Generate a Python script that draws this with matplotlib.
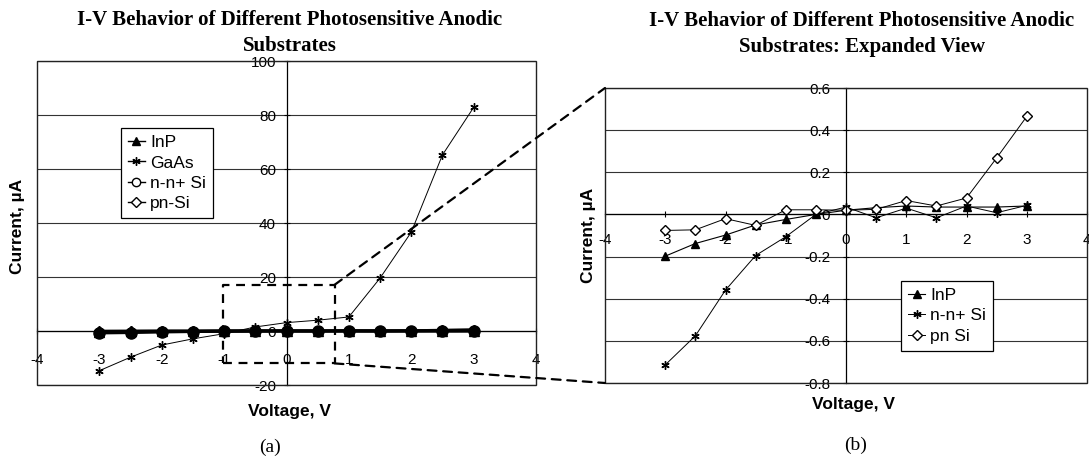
import matplotlib
matplotlib.use('Agg')
import matplotlib.pyplot as plt
import numpy as np
from matplotlib.patches import Rectangle, ConnectionPatch

plt.rcParams['font.family'] = ['Liberation Sans', 'DejaVu Sans']
plt.rcParams['axes.unicode_minus'] = False

# datos
v = [-3, -2.5, -2, -1.5, -1, -0.5, 0, 0.5, 1, 1.5, 2, 2.5, 3]
gaas = [-14.7, -9.7, -5.2, -2.9, -1.0, 1.5, 3.1, 4.0, 5.2, 19.6, 36.6, 65.2, 82.8]
inp = [-0.198, -0.138, -0.098, -0.05, -0.024, 0.0, 0.02, 0.032, 0.04, 0.035, 0.035, 0.035, 0.04]
nn_si = [-0.714, -0.576, -0.359, -0.195, -0.106, 0.0, 0.035, -0.016, 0.03, -0.016, 0.04, 0.008, 0.043]
pn_si = [-0.076, -0.073, -0.02, -0.052, 0.022, 0.022, 0.02, 0.024, 0.066, 0.04, 0.078, 0.268, 0.465]

xticks = [-4, -3, -2, -1, 0, 1, 2, 3, 4]
yticks_a = [-20, 0, 20, 40, 60, 80, 100]
yticks_b = [-0.8, -0.6, -0.4, -0.2, 0, 0.2, 0.4, 0.6]
zoom_box = [-1.02, 0.77, -12.0, 17.1]   # x0, x1, y0, y1

W, H = 1089, 461
fig = plt.figure(figsize=(W / 100, H / 100), dpi=100)


def ejes(rect_px, ylim, yticks, yfmt, xpad, ypad):
    x0, y0, x1, y1 = rect_px
    ax = fig.add_axes([x0 / W, 1 - y1 / H, (x1 - x0) / W, (y1 - y0) / H])
    ax.set_xlim(-4, 4)
    ax.set_ylim(*ylim)
    ax.spines['left'].set_position(('data', 0))
    ax.spines['bottom'].set_position(('data', 0))
    ax.spines['top'].set_visible(False)
    ax.spines['right'].set_visible(False)
    for s in ['left', 'bottom']:
        ax.spines[s].set_linewidth(0.9)
    ax.add_patch(Rectangle((0, 0), 1, 1, transform=ax.transAxes, fill=False,
                           lw=1.0, ec='#222222', clip_on=False, zorder=5))
    ax.set_xticks(xticks)
    ax.set_yticks(yticks)
    ax.set_yticklabels([yfmt(t) for t in yticks])
    ax.tick_params(direction='inout', length=5, width=0.8, labelsize=11)
    ax.tick_params(axis='x', pad=xpad)
    ax.tick_params(axis='y', pad=ypad)
    ax.grid(axis='y', color='#333333', lw=0.8)
    ax.set_axisbelow(True)
    return ax


# ---- (a)
ax1 = ejes((37, 61, 536, 385), (-20, 100), yticks_a, lambda t: '%d' % t, 13, 5)
ax1.plot(v, inp, 'k-', marker='^', ms=7, lw=2.2, label='InP')
ax1.plot(v, gaas, 'k-', marker=(6, 2, 0), ms=6, lw=0.7, label='GaAs')
ax1.plot(v, nn_si, 'k-', marker='o', ms=8, mfc='k', lw=2.2, label='n-n+ Si')
ax1.plot(v, pn_si, 'k-', marker='D', ms=5, mfc='k', lw=2.2, label='pn-Si')
leg = ax1.legend(loc='upper left', bbox_to_anchor=(0.168, 0.793), fontsize=12.5,
                 frameon=True, fancybox=False, framealpha=1, edgecolor='k',
                 handlelength=1.0, handletextpad=0.3, borderpad=0.4, labelspacing=0.3,
                 borderaxespad=0)
leg.get_frame().set_linewidth(0.9)
h = leg.legend_handles
h[0].set_linewidth(1); h[0].set_markersize(6)
h[1].set_linewidth(1)
h[2].set_linewidth(1); h[2].set_markerfacecolor('w'); h[2].set_markersize(6)
h[3].set_linewidth(1); h[3].set_markerfacecolor('w'); h[3].set_markersize(5)

x0, x1, y0, y1 = zoom_box
ax1.plot([x0, x1, x1, x0, x0], [y0, y0, y1, y1, y0], 'k--', lw=1.6, dashes=(4, 3), zorder=6)

# ---- (b)
ax2 = ejes((605, 88, 1087, 383), (-0.8, 0.6), yticks_b,
           lambda t: '0' if t == 0 else ('%.1f' % t), 11, 9)
ax2.plot(v, inp, 'k-', marker='^', ms=6, lw=0.8, label='InP')
ax2.plot(v, nn_si, 'k-', marker=(6, 2, 0), ms=6, lw=0.7, label='n-n+ Si')
ax2.plot(v, pn_si, 'k-', marker='D', ms=5, mfc='w', lw=0.7, label='pn Si')
leg2 = ax2.legend(loc='upper left', bbox_to_anchor=(0.614, 0.346), fontsize=12.5,
                  frameon=True, fancybox=False, framealpha=1, edgecolor='k',
                  handlelength=1.0, handletextpad=0.3, borderpad=0.4, labelspacing=0.3,
                  borderaxespad=0)
leg2.get_frame().set_linewidth(0.9)

# lineas de ampliacion
for pa, pb in [((x1, y1), (0, 1)), ((x1, y0), (0, 0))]:
    con = ConnectionPatch(xyA=pa, coordsA=ax1.transData, xyB=pb, coordsB=ax2.transAxes,
                          ls=(0, (4, 3)), lw=1.6, color='k')
    fig.add_artist(con)

# textos
tfont = dict(family='Liberation Serif', weight='bold', fontsize=15, ha='center', va='center')
fig.text(290 / W, 1 - 20 / H, 'I-V Behavior of Different Photosensitive Anodic', **tfont)
fig.text(290 / W, 1 - 46 / H, 'Substrates', **tfont)
fig.text(862 / W, 1 - 21 / H, 'I-V Behavior of Different Photosensitive Anodic', **tfont)
fig.text(862 / W, 1 - 47 / H, 'Substrates: Expanded View', **tfont)

lfont = dict(weight='bold', fontsize=12.5, ha='center', va='center')
fig.text(290 / W, 1 - 411 / H, 'Voltage, V', **lfont)
fig.text(853 / W, 1 - 404 / H, 'Voltage, V', **lfont)
fig.text(18 / W, 1 - 226 / H, 'Current, \u00b5A', rotation=90, **lfont)
fig.text(589 / W, 1 - 235 / H, 'Current, \u00b5A', rotation=90, **lfont)

sfont = dict(family='Liberation Serif', fontsize=14, ha='center', va='center')
fig.text(270 / W, 1 - 447 / H, '(a)', **sfont)
fig.text(856 / W, 1 - 445 / H, '(b)', **sfont)

fig.savefig('out.png', dpi=100)
